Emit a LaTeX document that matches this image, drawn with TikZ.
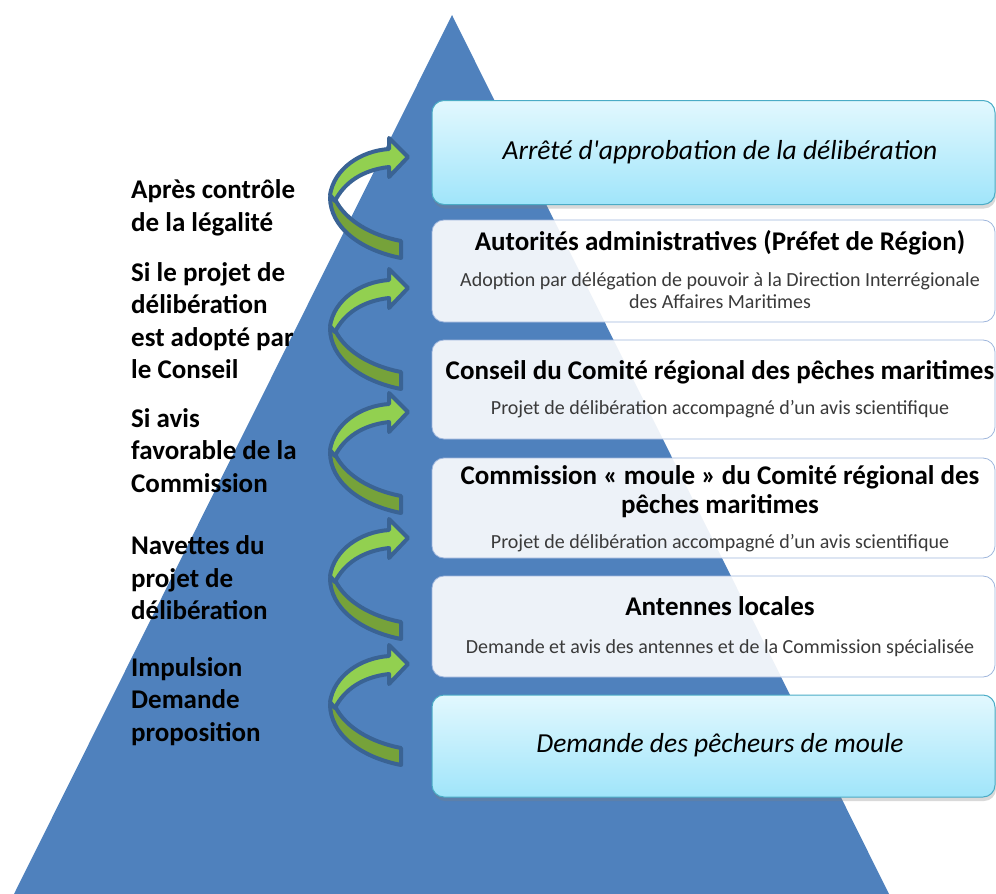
\documentclass[tikz,border=0pt]{standalone}
\usepackage{fontspec}
\setmainfont{Carlito}
\usetikzlibrary{shadows}
\definecolor{pyramid}{HTML}{4F81BD}
\definecolor{arrowlight}{HTML}{92D050}
\definecolor{arrowdark}{HTML}{76A23A}
\definecolor{arrowline}{HTML}{3A6394}
\definecolor{cyantop}{HTML}{E2F8FE}
\definecolor{cyanbot}{HTML}{A0E5FA}
\definecolor{cyanline}{HTML}{4BACC6}
\definecolor{boxline}{HTML}{9FB6DC}
\definecolor{subgray}{HTML}{3A3A3A}
\begin{document}
\begin{tikzpicture}[x=1pt,y=-1pt,
    stage/.style={rounded corners=12pt, fill=white, fill opacity=0.9,
      draw=boxline, line width=0.8pt, minimum width=563pt, inner sep=0pt},
    endstage/.style={rounded corners=12pt, top color=cyantop, bottom color=cyanbot,
      draw=cyanline, line width=1pt, minimum width=563pt, inner sep=0pt,
      drop shadow={opacity=0.3, shadow xshift=1pt, shadow yshift=-4pt}},
    endtext/.style={font=\fontsize{27.5}{30}\selectfont\itshape},
    title/.style={font=\fontsize{27}{29}\selectfont\bfseries, align=center},
    sub/.style={font=\fontsize{20}{22}\selectfont, text=subgray, align=center},
    cond/.style={font=\fontsize{27}{32.5}\selectfont\bfseries, align=left,
      anchor=west, inner sep=0pt},
    ribbon/.style={draw=arrowline, line width=4pt, line join=round}]
  \useasboundingbox (0,0) rectangle (996,894);
  % pyramid
  \fill[pyramid] (452,15) -- (889,894) -- (14,894) -- cycle;
  % stages
  \node[endstage, minimum height=104pt] (arrete) at (713.5,152.5) {};
  \node[stage, minimum height=102pt] (autorites) at (713.5,271) {};
  \node[stage, minimum height=99pt] (conseil) at (713.5,389.5) {};
  \node[stage, minimum height=100pt] (commission) at (713.5,508) {};
  \node[stage, minimum height=101pt] (antennes) at (713.5,626.5) {};
  \node[endstage, minimum height=102pt] (pecheurs) at (713.5,746) {};
  % texts of the stages
  \node[endtext] (arretetxt) at (720,152) {Arrêté d\textquotesingle approbation de la délibération};
  \node[title] (autoritestxt) at (720,243) {Autorités administratives (Préfet de Région)};
  \node[sub] (autoritessub) at (720,291) {Adoption par délégation de pouvoir à la Direction Interrégionale\\des Affaires Maritimes};
  \node[title] (conseiltxt) at (720,372) {Conseil du Comité régional des pêches maritimes};
  \node[sub] (conseilsub) at (720,409) {Projet de délibération accompagné d’un avis scientifique};
  \node[title] (commissiontxt) at (720,491.5) {Commission « moule » du Comité régional des\\pêches maritimes};
  \node[sub] (commissionsub) at (720,543) {Projet de délibération accompagné d’un avis scientifique};
  \node[title] (antennestxt) at (720,606) {Antennes locales};
  \node[sub] (antennessub) at (720,648) {Demande et avis des antennes et de la Commission spécialisée};
  \node[endtext] (pecheurstxt) at (720,745) {Demande des pêcheurs de moule};
  % conditions
  \node[cond] (legalite) at (131,208) {Après contrôle\\de la légalité};
  \node[cond] (adopte) at (131,320.5) {Si le projet de\\délibération\\est adopté par\\le Conseil};
  \node[cond] (avis) at (131,450.5) {Si avis\\favorable de la\\Commission};
  \node[cond] (navettes) at (131,578) {Navettes du\\projet de\\délibération};
  \node[cond] (impulsion) at (131,701.5) {Impulsion\\Demande\\proposition};
  % bent arrows
  \foreach \yh in {157,288,412,538,664}
   {
    \begin{scope}[shift={(0,\yh)}]
      \filldraw[ribbon, fill=arrowdark]
        (330,40) .. controls (330,70) and (360,93) .. (401,101)
        -- (401,84) .. controls (370,78) and (346,63) .. (336,44) -- cycle;
      \filldraw[ribbon, fill=arrowlight]
        (389,-8) .. controls (360,-6) and (334,12) .. (330,38)
        -- (335,44) .. controls (344,26) and (362,13) .. (389,10)
        -- (389,20) -- (408,0) -- (389,-19) -- cycle;
    \end{scope}
   }
\end{tikzpicture}
\end{document}
